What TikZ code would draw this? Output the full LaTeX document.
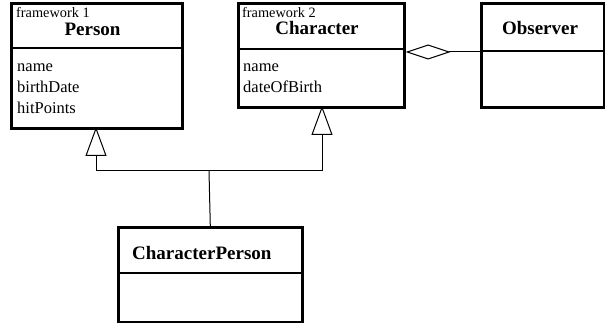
\documentclass[tikz,border=0pt]{standalone}
\usepackage{fontspec}
\setmainfont{Liberation Serif}
\usetikzlibrary{arrows.meta,calc}
\begin{document}
\begin{tikzpicture}[x=1pt,y=-1pt,
  classbox/.style={draw,line width=2.6pt,rectangle,anchor=north west,inner sep=0pt},
  divider/.style={line width=2pt},
  conn/.style={line width=1pt},
  inherit/.style={conn,-{Triangle[open,length=29pt,width=21pt,line width=1pt]}},
  aggr/.style={conn,{Diamond[open,length=45pt,width=15pt,line width=1pt]}-},
  fwtext/.style={anchor=base west,font=\fontsize{14.3}{14.3}\selectfont,inner sep=0pt},
  nametext/.style={anchor=base,font=\fontsize{19}{19}\selectfont\bfseries,inner sep=0pt},
  attrtext/.style={anchor=base west,font=\fontsize{16.5}{16.5}\selectfont,inner sep=0pt}]
\useasboundingbox (0,0) rectangle (605,323);

% class boxes
\node[classbox,minimum width=171pt,minimum height=125pt] (person) at (10,2) {};
\node[classbox,minimum width=166pt,minimum height=104pt] (character) at (237,2) {};
\node[classbox,minimum width=123pt,minimum height=104pt] (observer) at (480,2) {};
\node[classbox,minimum width=184pt,minimum height=95pt] (cp) at (117,226) {};

% compartment dividers
\draw[divider] (person.west |- 0,48) -- (person.east |- 0,48);
\draw[divider] (character.west |- 0,49) -- (character.east |- 0,49);
\draw[divider] (observer.west |- 0,51) -- (observer.east |- 0,51);
\draw[divider] (cp.west |- 0,273) -- (cp.east |- 0,273);

% Person
\node[fwtext] (fw1) at (16,18) {framework 1};
\node[nametext] (personname) at (92.5,36) {Person};
\node[attrtext] (pa1) at (17,72) {name};
\node[attrtext] (pa2) at (17,93) {birthDate};
\node[attrtext] (pa3) at (17,114) {hitPoints};

% Character
\node[fwtext] (fw2) at (242,18) {framework 2};
\node[nametext] (charname) at (317,35) {Character};
\node[attrtext] (ca1) at (243,72) {name};
\node[attrtext] (ca2) at (243,93) {dateOfBirth};

% Observer
\node[nametext] (obsname) at (540,35) {Observer};

% CharacterPerson
\node[nametext,anchor=base west] (cpname) at (132,259) {CharacterPerson};

% generalisation
\coordinate (j) at (209,171);
\coordinate (ptip) at (96,127);
\coordinate (ctip) at (322,106);
\draw[conn] (cp.north) -- (j);
\draw[inherit] (j) -| (ptip);
\draw[inherit] (j) -| (ctip);

% aggregation
\draw[aggr] (character.east |- 0,52) -- (observer.west |- 0,52);
\end{tikzpicture}
\end{document}
